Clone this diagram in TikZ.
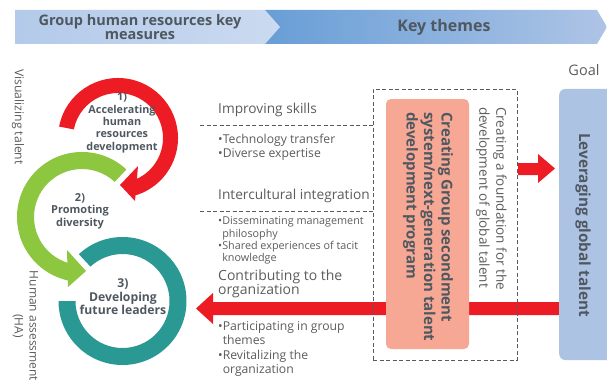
\documentclass[tikz,border=0pt]{standalone}
\usepackage{fontspec}
\setmainfont{Open Sans}
\usetikzlibrary{calc}
\definecolor{redc}{HTML}{ED1C24}
\definecolor{greenc}{HTML}{8DC63F}
\definecolor{tealc}{HTML}{2A9893}
\definecolor{salmonc}{HTML}{F7A894}
\definecolor{goalc}{HTML}{ADC3E4}
\definecolor{banLa}{HTML}{B3CAEA}
\definecolor{banLb}{HTML}{CBDAF0}
\definecolor{banRa}{HTML}{689ED6}
\definecolor{banRb}{HTML}{AEC4E6}
\definecolor{txtc}{HTML}{4F5860}
\definecolor{greyc}{HTML}{5C5C5C}
\definecolor{dashc}{HTML}{5A5A5A}
\begin{document}
\begin{tikzpicture}[x=1pt,y=1pt,
  ringlbl/.style={text=txtc,inner sep=0pt,align=center,font=\bfseries\fontsize{11}{12.6}\selectfont},
  body/.style={text=greyc,inner sep=0pt,anchor=west,align=left},
  headtxt/.style={body,font=\fontsize{13.7}{14}\selectfont},
  bul/.style={body,font=\fontsize{12.2}{14.3}\selectfont},
  bulb/.style={body,font=\fontsize{12.2}{14.3}\selectfont},
  dashln/.style={draw=dashc,line width=0.9pt,dash pattern=on 4pt off 2.5pt},
  halo/.style={draw=white,line width=3pt,line join=round},
  boxnode/.style={inner sep=0pt,draw=none}
]
\useasboundingbox (0,0) rectangle (607,381);

% ---------- banner ----------
\shade[left color=banRa,right color=banRb] (265,371) -- (597,371) -- (607,354) -- (597,337) -- (265,337) -- cycle;
\shade[left color=banLa,right color=banLb] (15,371) -- (265,371) -- (280,354) -- (265,337) -- (15,337) -- cycle;
\node[text=txtc,inner sep=0pt,align=center,font=\bfseries\fontsize{14.5}{14}\selectfont] (bl) at (140,353.5) {Group human resources key\\measures};
\node[text=txtc,inner sep=0pt,font=\bfseries\fontsize{16}{18}\selectfont] (br) at (444,354) {Key themes};
\node[text=greyc,inner sep=0pt,font=\fontsize{14.5}{16}\selectfont] (goal) at (584,311) {Goal};

% ---------- teal ring ----------
\begin{scope}[shift={(122.5,80)}]
\fill[tealc] (133:64pt) arc[start angle=133,end angle=-180,radius=64pt] -- (180:47pt) arc[start angle=180,end angle=493,radius=47pt] -- cycle;
\end{scope}
% ---------- green ring ----------
\begin{scope}[shift={(82,164)}]
\path[halo] (47:65pt) arc[start angle=47,end angle=258.5,radius=65pt] -- (253.5:48pt) arc[start angle=253.5,end angle=47,radius=48pt] -- cycle;
\end{scope}
\path[halo] (67,131) -- (86,110) -- (68,94) -- cycle;
\begin{scope}[shift={(82,164)}]
\fill[greenc] (47:65pt) arc[start angle=47,end angle=258.5,radius=65pt] -- (253.5:48pt) arc[start angle=253.5,end angle=47,radius=48pt] -- cycle;
\end{scope}
\fill[greenc] (67,131) -- (86,110) -- (68,94) -- cycle;
% ---------- red ring ----------
\begin{scope}[shift={(118,243)}]
\path[halo] (169:60pt) arc[start angle=169,end angle=-74.5,radius=60pt] -- (-66.6:45pt) arc[start angle=-66.6,end angle=169,radius=45pt] -- cycle;
\end{scope}
\path[halo] (138,215) -- (120,196) -- (135,180) -- cycle;
\begin{scope}[shift={(118,243)}]
\fill[redc] (169:60pt) arc[start angle=169,end angle=-74.5,radius=60pt] -- (-66.6:45pt) arc[start angle=-66.6,end angle=169,radius=45pt] -- cycle;
\end{scope}
\fill[redc] (138,215) -- (120,196) -- (135,180) -- cycle;

% ---------- ring labels ----------
\node[ringlbl,font=\bfseries\fontsize{10.8}{12.3}\selectfont] (m1) at (122,258) {1)\\Accelerating\\human\\resources\\development};
\node[ringlbl] (m2) at (80,170) {2)\\Promoting\\diversity};
\node[ringlbl,font=\bfseries\fontsize{12.2}{13.5}\selectfont] (m3) at (123,84) {3)\\Developing\\future leaders};

% ---------- side labels ----------
\node[text=greyc,inner sep=0pt,rotate=-90,font=\fontsize{12.2}{14}\selectfont] (vis) at (18,264) {Visualizing talent};
\node[text=greyc,inner sep=0pt,rotate=-90,align=center,font=\fontsize{12}{15}\selectfont] (ha) at (25.5,55) {Human assessment\\(HA)};

% ---------- middle texts ----------
\node[headtxt] (t1) at (218,271) {Improving skills};
\node[bul] (t1b) at (218,233.5) {•Technology transfer\\•Diverse expertise};
\node[headtxt] (t2) at (218,185) {Intercultural integration};
\node[bul,font=\fontsize{10.8}{12.3}\selectfont] (t2b) at (218,140.5) {•Disseminating management\\\hphantom{•}philosophy\\•Shared experiences of tacit\\\hphantom{•}knowledge};
\node[headtxt,font=\fontsize{14}{14}\selectfont] (t3) at (218,97) {Contributing to the\\organization};
\node[bulb] (t3b) at (218,32) {•Participating in group\\\hphantom{•}themes\\•Revitalizing the\\\hphantom{•}organization};

% ---------- big red arrow (to the left) ----------
\fill[redc] (560,79) -- (213,79) -- (213,88) -- (196,72.5) -- (213,57) -- (213,66) -- (560,66) -- cycle;

% ---------- boxes ----------
\node[boxnode,fill=salmonc,rounded corners=5pt,minimum width=83pt,minimum height=250pt] (sal) at (427.5,157) {};
\node[boxnode,draw=dashc,line width=0.9pt,dash pattern=on 4pt off 2.5pt,minimum width=144pt,minimum height=271pt] (dbox) at (445,156.5) {};
\node[boxnode,fill=goalc,rounded corners=6pt,minimum width=70pt,minimum height=271pt,anchor=west] (goalbox) at (559,156.5) {};

% dashed leader lines
\coordinate (d1) at (200,256);
\coordinate (d2) at (200,170);
\draw[dashln] (d1) -- (d1 -| dbox.west);
\draw[dashln] (d2) -- (d2 -| dbox.west);

% small red arrow to goal
\fill[redc] (518,218) -- (538,218) -- (538,227) -- (555,212.5) -- (538,198) -- (538,206) -- (518,206) -- cycle;

% ---------- box texts ----------
\node[text=txtc,inner sep=0pt,rotate=-90,anchor=west,align=left,font=\bfseries\fontsize{15}{17.5}\selectfont] (saltxt) at (428,269) {Creating Group secondment\\system/next-generation talent\\development program};
\node[text=greyc,inner sep=0pt,rotate=-90,anchor=west,align=left,font=\fontsize{13.5}{17}\selectfont] (dtxt) at (491.5,274) {Creating a foundation for the\\development of global talent};
\node[text=txtc,inner sep=0pt,rotate=-90,font=\bfseries\fontsize{15.3}{17}\selectfont] (gtxt) at (583,156) {Leveraging global talent};
\end{tikzpicture}
\end{document}
